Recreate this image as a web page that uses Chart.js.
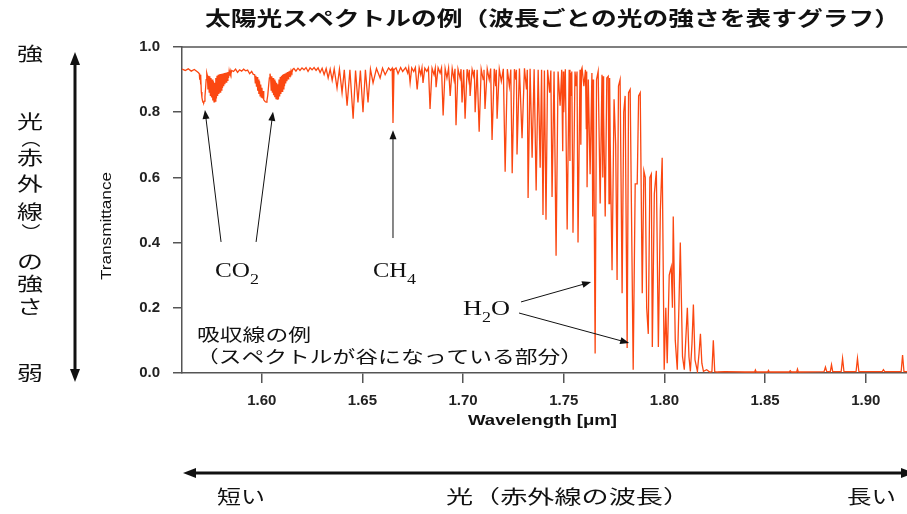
<!DOCTYPE html>
<html>
<head>
<meta charset="utf-8">
<script src="https://cdn.jsdelivr.net/npm/chart.js@4.4.1/dist/chart.umd.min.js"></script>
<style>
html, body { margin:0; padding:0; background:#fff; }
#wrap { position:relative; width:907px; height:514px; }
</style>
</head>
<body>
<div id="wrap"><canvas id="chart" width="907" height="514"></canvas></div>
<script>
// spectrum, [wavelength (um), transmittance]
var co2Region = [
    [1.5604,0.932],[1.5620,0.928],[1.5635,0.933],[1.5650,0.926],[1.5665,0.931],[1.5680,0.924],[1.5686,0.921],
    [1.5690,0.918],[1.5692,0.900],[1.5694,0.915],[1.5696,0.885],[1.5698,0.910],[1.5700,0.862],[1.5703,0.845],[1.5706,0.835],
    [1.5709,0.830],[1.5712,0.829],[1.5715,0.834],[1.5718,0.848],[1.5721,0.872],[1.5724,0.900],[1.5727,0.920],[1.5730,0.912],
    [1.5733,0.870],[1.5736,0.912],[1.5739,0.862],[1.5742,0.910],[1.5745,0.852],[1.5748,0.905],[1.5751,0.845],[1.5754,0.900],
    [1.5757,0.836],[1.5760,0.895],[1.5763,0.832],[1.5766,0.890],[1.5769,0.834],[1.5772,0.905],[1.5775,0.842],[1.5778,0.912],
    [1.5781,0.850],[1.5784,0.915],[1.5787,0.856],[1.5790,0.916],[1.5793,0.862],[1.5796,0.917],[1.5799,0.868],[1.5802,0.918],
    [1.5805,0.874],[1.5808,0.919],[1.5811,0.880],[1.5814,0.920],[1.5817,0.886],[1.5820,0.921],[1.5823,0.892],[1.5826,0.922],
    [1.5829,0.898],[1.5832,0.923],[1.5835,0.905],[1.5838,0.925],[1.5841,0.912],[1.5844,0.926],[1.5847,0.918],[1.5851,0.928],
    [1.5860,0.925],[1.5870,0.932],[1.5880,0.922],[1.5890,0.930],[1.5900,0.926],[1.5910,0.932],[1.5920,0.927],[1.5930,0.929],
    [1.5940,0.918],[1.5950,0.925],[1.5958,0.916],
    [1.5965,0.915],[1.5968,0.890],[1.5971,0.912],[1.5974,0.878],[1.5977,0.908],[1.5980,0.866],[1.5983,0.900],[1.5986,0.856],
    [1.5989,0.895],[1.5992,0.850],[1.5995,0.885],[1.5998,0.846],[1.6001,0.875],[1.6004,0.842],[1.6007,0.865],[1.6010,0.838],
    [1.6014,0.835],[1.6018,0.832],[1.6022,0.831],[1.6026,0.836],[1.6030,0.852],[1.6034,0.880],[1.6038,0.905],[1.6041,0.918],
    [1.6044,0.908],[1.6047,0.868],[1.6050,0.910],[1.6053,0.860],[1.6056,0.905],[1.6059,0.852],[1.6062,0.900],[1.6065,0.846],
    [1.6068,0.895],[1.6071,0.842],[1.6074,0.890],[1.6077,0.840],[1.6080,0.886],[1.6083,0.840],[1.6086,0.900],[1.6089,0.848],
    [1.6092,0.908],[1.6095,0.856],[1.6098,0.912],[1.6101,0.864],[1.6104,0.915],[1.6107,0.872],[1.6110,0.917],[1.6113,0.880],
    [1.6116,0.919],[1.6119,0.888],[1.6122,0.921],[1.6125,0.895],[1.6128,0.923],[1.6131,0.902],[1.6134,0.925],[1.6137,0.910],
    [1.6140,0.927],[1.6143,0.916],[1.6146,0.928],[1.6150,0.922],[1.6154,0.931]
];
var ch4Region = [
    [1.6160,0.934],[1.6170,0.926],[1.6180,0.935],[1.6190,0.928],[1.6200,0.936],[1.6210,0.930],[1.6220,0.937],[1.6230,0.925],
    [1.6240,0.936],[1.6250,0.930],[1.6260,0.937],[1.6270,0.928],[1.6280,0.936],[1.6290,0.922],[1.6300,0.935],[1.6310,0.915],
    [1.6320,0.934],[1.6330,0.905],[1.6340,0.932],[1.6350,0.898],[1.6360,0.933],
    [1.6374,0.874],[1.6386,0.932],[1.6399,0.860],[1.6410,0.930],[1.6424,0.820],[1.6438,0.930],[1.6454,0.780],[1.6466,0.928],
    [1.6478,0.830],[1.6490,0.928],[1.6503,0.800],[1.6515,0.930],[1.6528,0.830],[1.6540,0.932],[1.6553,0.890],[1.6570,0.934],
    [1.6588,0.905],[1.6600,0.935],[1.6613,0.915],[1.6630,0.936],[1.6640,0.928],[1.6648,0.935],[1.6652,0.767],[1.6657,0.930],
    [1.6667,0.936],[1.6677,0.918],[1.6690,0.937],[1.6700,0.925],[1.6715,0.937],[1.6725,0.920],[1.6730,0.936],[1.6737,0.890],
    [1.6745,0.936],[1.6755,0.925],[1.6763,0.937],[1.6772,0.870],[1.6782,0.936],[1.6790,0.915],[1.6796,0.936],[1.6801,0.890],
    [1.6810,0.935],[1.6820,0.925],[1.6828,0.936],[1.6836,0.810],[1.6846,0.935],[1.6856,0.915],[1.6862,0.935],[1.6866,0.877],
    [1.6876,0.936],[1.6886,0.920],[1.6893,0.936],[1.6901,0.790],[1.6911,0.934],[1.6920,0.905],[1.6928,0.935],[1.6936,0.850],
    [1.6946,0.934],[1.6955,0.900],[1.6960,0.933],[1.6965,0.760],[1.6975,0.932],[1.6985,0.905],[1.6990,0.932],[1.6995,0.830],
    [1.7003,0.930],[1.7010,0.780],[1.7020,0.932],[1.7028,0.900],[1.7031,0.930],[1.7035,0.850],[1.7045,0.931],[1.7053,0.910],
    [1.7056,0.930],[1.7060,0.800],[1.7070,0.930],[1.7080,0.740],[1.7090,0.932],[1.7100,0.900],[1.7104,0.930],[1.7109,0.810],
    [1.7120,0.933],[1.7130,0.900],[1.7137,0.934],[1.7144,0.715],[1.7155,0.933],[1.7162,0.880],[1.7165,0.930],[1.7169,0.780],
    [1.7180,0.932],[1.7190,0.895],[1.7200,0.933],[1.7209,0.617],[1.7220,0.932],[1.7230,0.880],[1.7237,0.931],[1.7244,0.613],
    [1.7255,0.932],[1.7262,0.900],[1.7265,0.930],[1.7268,0.670],[1.7280,0.934],[1.7293,0.720],[1.7305,0.935],[1.7315,0.870],
    [1.7319,0.930],[1.7323,0.537],[1.7333,0.933],[1.7343,0.660],[1.7353,0.932],[1.7363,0.560],[1.7373,0.930],[1.7383,0.630],
    [1.7390,0.930],[1.7397,0.485],[1.7404,0.928]
];
var h2oRegion = [
    [1.7412,0.470],[1.7420,0.930],[1.7430,0.860],[1.7436,0.928],[1.7442,0.540],[1.7452,0.925],[1.7462,0.360],[1.7472,0.925],
    [1.7482,0.820],[1.7490,0.930],[1.7495,0.680],[1.7498,0.925],[1.7500,0.800],[1.7508,0.932],[1.7517,0.440],[1.7527,0.930],
    [1.7531,0.650],[1.7533,0.920],[1.7535,0.850],[1.7540,0.925],[1.7546,0.430],[1.7556,0.925],[1.7562,0.880],[1.7566,0.925],
    [1.7571,0.400],[1.7581,0.930],[1.7585,0.700],[1.7588,0.930],[1.7591,0.936],[1.7600,0.880],[1.7608,0.930],[1.7612,0.750],
    [1.7614,0.925],[1.7616,0.570],[1.7622,0.900],[1.7631,0.610],[1.7640,0.920],[1.7644,0.480],[1.7646,0.900],[1.7648,0.850],
    [1.7656,0.060],[1.7663,0.900],[1.7671,0.925],[1.7681,0.520],[1.7690,0.915],[1.7694,0.600],[1.7696,0.910],[1.7698,0.800],
    [1.7706,0.480],[1.7714,0.905],[1.7721,0.910],[1.7725,0.520],[1.7728,0.905],[1.7731,0.700],[1.7740,0.315],[1.7750,0.840],
    [1.7758,0.700],[1.7765,0.285],[1.7772,0.880],[1.7780,0.900],[1.7790,0.245],[1.7798,0.800],[1.7805,0.850],[1.7815,0.077],
    [1.7822,0.860],[1.7830,0.870],[1.7845,0.010],[1.7855,0.580],[1.7865,0.580],[1.7872,0.850],[1.7880,0.860],[1.7890,0.245],
    [1.7898,0.620],[1.7905,0.600],[1.7912,0.200],[1.7920,0.120],[1.7928,0.600],[1.7935,0.610],[1.7940,0.080],[1.7950,0.550],
    [1.7960,0.620],[1.7970,0.080],[1.7980,0.500],[1.7989,0.660],[1.7999,0.010],[1.8007,0.200],[1.8014,0.030],[1.8024,0.300],
    [1.8034,0.325],[1.8040,0.200],[1.8044,0.480],[1.8054,0.100],[1.8064,0.010],[1.8072,0.200],[1.8079,0.400],[1.8090,0.050],
    [1.8099,0.010],[1.8106,0.100],[1.8114,0.200],[1.8122,0.050],[1.8129,0.005],[1.8137,0.090],[1.8144,0.210],[1.8152,0.040],
    [1.8164,0.005],[1.8172,0.060],[1.8179,0.120],[1.8186,0.030],[1.8194,0.005],[1.8210,0.010],[1.8225,0.003],[1.8236,0.004],
    [1.8243,0.100],[1.8250,0.004],[1.8263,0.003]
];
var tailRegion = [
    [1.8300,0.004],[1.8400,0.003],[1.8448,0.003],[1.8452,0.009],[1.8456,0.003],[1.8513,0.003],[1.8517,0.008],[1.8521,0.003],
    [1.8620,0.003],[1.8625,0.007],[1.8630,0.003],[1.8657,0.003],[1.8661,0.012],[1.8665,0.003],[1.8793,0.004],[1.8800,0.018],
    [1.8806,0.005],[1.8824,0.004],[1.8830,0.025],[1.8836,0.004],[1.8878,0.004],[1.8885,0.045],[1.8892,0.004],[1.8952,0.004],
    [1.8959,0.045],[1.8966,0.004],[1.9082,0.004],[1.9088,0.010],[1.9094,0.004],[1.9176,0.004],[1.9183,0.055],[1.9190,0.004],
    [1.9210,0.004]
];

var xTicks = [1.60, 1.65, 1.70, 1.75, 1.80, 1.85, 1.90];
var yTicks = [0.0, 0.2, 0.4, 0.6, 0.8, 1.0];

var titleText = '太陽光スペクトルの例（波長ごとの光の強さを表すグラフ）';
var xTitle = 'Wavelength [μm]';
var yTitle = 'Transmittance';

var jp = '"Noto Sans CJK JP", sans-serif';
var sans = '"Liberation Sans", Arial, sans-serif';
var serif = '"Liberation Serif", "Times New Roman", serif';

var spectrum = co2Region.concat(ch4Region, h2oRegion, tailRegion).map(function(p){
    return {x: p[0], y: p[1]};
});

// draw text squeezed/stretched into a box
function fitText(ctx, str, left, right, cy, font){
    ctx.font = font;
    var w = ctx.measureText(str).width;
    ctx.save();
    ctx.translate((left + right) / 2, cy);
    ctx.scale((right - left) / w, 1);
    ctx.textAlign = 'center';
    ctx.textBaseline = 'middle';
    ctx.fillText(str, 0, 0);
    ctx.restore();
}

function arrow(ctx, x1, y1, x2, y2, lw, hl, hw){
    var a = Math.atan2(y2 - y1, x2 - x1);
    ctx.save();
    ctx.lineWidth = lw;
    ctx.beginPath();
    ctx.moveTo(x1, y1);
    ctx.lineTo(x2 - Math.cos(a) * hl * 0.8, y2 - Math.sin(a) * hl * 0.8);
    ctx.stroke();
    ctx.translate(x2, y2);
    ctx.rotate(a);
    ctx.beginPath();
    ctx.moveTo(0, 0);
    ctx.lineTo(-hl, -hw / 2);
    ctx.lineTo(-hl, hw / 2);
    ctx.closePath();
    ctx.fill();
    ctx.restore();
}

var decor = {
    id: 'decor',
    afterDraw: function(chart){
        var ctx = chart.ctx;
        var sx = chart.scales.x, sy = chart.scales.y;
        var area = chart.chartArea;
        ctx.save();

        // top frame line
        ctx.strokeStyle = '#555';
        ctx.lineWidth = 1.5;
        ctx.beginPath();
        ctx.moveTo(area.left, area.top);
        ctx.lineTo(area.right, area.top);
        ctx.stroke();

        ctx.fillStyle = '#111';
        ctx.strokeStyle = '#111';
        fitText(ctx, titleText, 205, 900, 18, 'bold 20px ' + jp);

        // axis titles
        fitText(ctx, xTitle, 468, 617, 421, 'bold 14px ' + sans);
        ctx.save();
        ctx.translate(107, 226);
        ctx.rotate(-Math.PI / 2);
        fitText(ctx, yTitle, -54, 54, 0, '15px ' + sans);
        ctx.restore();

        // arrows pointing at absorption lines
        var px = function(w){ return sx.getPixelForValue(w); };
        var py = function(t){ return sy.getPixelForValue(t); };
        arrow(ctx, px(1.5798), py(0.402), px(1.5718), py(0.807), 1, 9, 7);
        arrow(ctx, px(1.5972), py(0.402), px(1.6056), py(0.801), 1, 9, 7);
        arrow(ctx, px(1.6652), py(0.414), px(1.6652), py(0.745), 1, 9, 7);
        arrow(ctx, px(1.7288), py(0.218), px(1.7636), py(0.279), 1, 9, 7);
        arrow(ctx, px(1.7278), py(0.184), px(1.7825), py(0.092), 1, 9, 7);

        // molecule labels
        fitText(ctx, 'CO', 215, 250, 272, '20px ' + serif);
        fitText(ctx, '2', 250, 259, 280, '14px ' + serif);
        fitText(ctx, 'CH', 373, 407, 272, '20px ' + serif);
        fitText(ctx, '4', 407, 416, 280, '14px ' + serif);
        fitText(ctx, 'H', 463, 482, 310, '20px ' + serif);
        fitText(ctx, '2', 482, 491, 318, '14px ' + serif);
        fitText(ctx, 'O', 491, 510, 310, '20px ' + serif);

        fitText(ctx, '吸収線の例', 197, 311, 335, '17px ' + jp);
        fitText(ctx, '（スペクトルが谷になっている部分）', 196, 583, 357, '17px ' + jp);

        // left side: strength of light
        var col = [['強', 54], ['光', 122], ['赤', 158], ['外', 184], ['線', 212], ['の', 262], ['強', 284], ['さ', 307], ['弱', 373]];
        col.forEach(function(c){
            fitText(ctx, c[0], 17, 43, c[1], '19px ' + jp);
        });
        [['（', 138], ['）', 233]].forEach(function(c){
            ctx.save();
            ctx.translate(30, c[1]);
            ctx.rotate(Math.PI / 2);
            fitText(ctx, c[0], -10, 10, 0, '19px ' + jp);
            ctx.restore();
        });
        arrow(ctx, 75, 200, 75, 52, 3, 13, 10);
        arrow(ctx, 75, 200, 75, 382, 3, 13, 10);

        // bottom: wavelength
        arrow(ctx, 540, 473, 183, 473, 3, 13, 10);
        arrow(ctx, 540, 473, 914, 473, 3, 13, 10);
        fitText(ctx, '短い', 217, 265, 497, '19px ' + jp);
        fitText(ctx, '光（赤外線の波長）', 446, 690, 497, '19px ' + jp);
        fitText(ctx, '長い', 847, 896, 497, '19px ' + jp);

        ctx.restore();
    }
};

var ctx = document.getElementById('chart');
var chart = new Chart(ctx, {
    type: 'line',
    data: {
        datasets: [{
            data: spectrum,
            borderColor: '#fb4711',
            borderWidth: 1.3,
            pointRadius: 0,
            tension: 0,
            fill: false
        }]
    },
    options: {
        responsive: false,
        animation: false,
        events: [],
        layout: { padding: { top: 47, right: 0, bottom: 0, left: 0 } },
        plugins: { legend: { display: false }, tooltip: { enabled: false } },
        scales: {
            x: {
                type: 'linear',
                min: 1.5604,
                max: 1.9205,
                afterFit: function(scale){ scale.height = 141; },
                afterBuildTicks: function(scale){
                    scale.ticks = xTicks.map(function(v){ return {value: v}; });
                },
                grid: { drawOnChartArea: false, drawTicks: true, tickLength: 10, color: '#555', lineWidth: 1.5 },
                border: { display: true, color: '#555', width: 1.5 },
                ticks: {
                    padding: 9,
                    color: '#222',
                    maxRotation: 0,
                    font: { family: sans, size: 15, weight: 'bold' },
                    callback: function(v){ return v.toFixed(2); }
                }
            },
            y: {
                min: 0,
                max: 1.0,
                afterFit: function(scale){ scale.width = 182; },
                afterBuildTicks: function(scale){
                    scale.ticks = yTicks.map(function(v){ return {value: v}; });
                },
                grid: { drawOnChartArea: false, drawTicks: true, tickLength: 9, color: '#555', lineWidth: 1.5 },
                border: { display: true, color: '#555', width: 1.5 },
                ticks: {
                    padding: 13,
                    color: '#222',
                    font: { family: sans, size: 15, weight: 'bold' },
                    callback: function(v){ return v.toFixed(1); }
                }
            }
        }
    },
    plugins: [decor]
});
</script>
</body>
</html>
